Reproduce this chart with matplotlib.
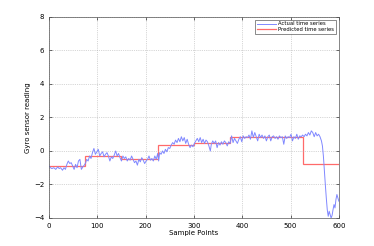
import numpy as np
import matplotlib
matplotlib.use("Agg")
import matplotlib.pyplot as plt

# actual gyro readings (sample index, value)
act_pts = [
    (0, -0.9), (3, -1.0), (6, -1.05), (10, -1.0), (14, -1.1), (18, -0.95), (21, -1.05), (24, -1.0),
    (28, -1.15), (31, -1.0), (34, -1.1), (37, -0.8), (40, -0.6), (43, -0.75), (46, -0.7), (49, -0.9),
    (52, -1.1), (55, -0.8), (58, -1.0), (61, -0.6), (64, -0.5), (67, -1.1), (70, -0.95), (73, -0.85),
    (76, -0.7), (78, -0.5), (81, -0.6), (84, -0.3), (87, -0.45), (90, -0.1), (93, 0.15), (96, -0.2),
    (99, -0.05), (102, 0.1), (105, -0.3), (108, -0.15), (111, -0.05), (114, -0.35), (117, -0.2),
    (120, -0.1), (123, -0.3), (126, -0.6), (129, -0.35), (132, -0.45), (135, -0.25), (138, 0.0),
    (141, -0.3), (144, -0.15), (147, -0.4), (150, -0.6), (153, -0.3), (156, -0.45), (159, -0.35),
    (162, -0.6), (165, -0.45), (168, -0.55), (171, -0.3), (174, -0.5), (177, -0.7), (180, -0.6),
    (183, -0.85), (186, -0.5), (189, -0.65), (192, -0.4), (195, -0.55), (198, -0.75), (201, -0.6),
    (204, -0.5), (207, -0.3), (210, -0.55), (213, -0.45), (216, -0.6), (219, -0.3), (222, -0.5),
    (225, -0.15), (227, -0.6), (229, -0.1), (232, -0.2), (235, 0.0), (238, -0.15), (241, 0.1),
    (244, -0.05), (247, 0.2), (250, 0.15), (253, 0.35), (256, 0.5), (259, 0.4), (262, 0.65),
    (265, 0.5), (268, 0.75), (271, 0.55), (274, 0.85), (277, 0.6), (280, 0.8), (283, 0.45),
    (286, 0.7), (289, 0.4), (292, 0.2), (295, 0.35), (298, 0.25), (301, 0.45), (304, 0.6),
    (307, 0.75), (310, 0.55), (313, 0.8), (316, 0.5), (319, 0.7), (322, 0.45), (325, 0.65),
    (328, 0.55), (331, 0.3), (334, 0.0), (336, 0.4), (339, 0.6), (342, 0.45), (345, 0.6),
    (348, 0.2), (351, 0.5), (354, 0.35), (357, 0.55), (360, 0.4), (363, 0.6), (366, 0.5),
    (369, 0.3), (372, 0.55), (375, 0.45), (378, 0.9), (381, 0.5), (384, 0.75), (387, 0.6),
    (390, 0.45), (393, 0.7), (396, 0.85), (399, 0.55), (402, 0.9), (405, 0.75), (408, 0.85),
    (411, 0.8), (414, 0.95), (417, 0.7), (420, 1.2), (423, 0.8), (426, 1.1), (429, 0.85),
    (432, 0.6), (435, 1.0), (438, 0.8), (441, 0.95), (444, 0.75), (447, 0.9), (450, 0.6),
    (453, 0.85), (456, 0.95), (459, 0.6), (462, 0.85), (465, 0.9), (468, 0.75), (471, 0.85),
    (474, 0.7), (477, 0.9), (480, 0.8), (483, 0.85), (486, 0.4), (489, 0.9), (492, 0.75),
    (495, 0.85), (498, 0.8), (501, 1.0), (504, 0.6), (507, 0.85), (510, 0.75), (513, 1.0),
    (516, 0.7), (519, 0.9), (522, 0.85), (525, 0.95), (528, 0.85), (531, 1.0), (534, 0.9),
    (537, 1.1), (540, 0.95), (543, 1.2), (546, 1.1), (549, 0.85), (552, 1.1), (555, 0.9),
    (558, 1.0), (561, 0.85), (564, 0.6), (566, 0.3), (568, -0.3), (570, -1.2), (572, -2.0),
    (574, -2.8), (576, -3.5), (578, -3.9), (580, -3.6), (582, -3.8), (584, -4.0), (586, -3.85),
    (588, -3.5), (590, -3.2), (592, -3.4), (594, -2.9), (596, -2.6), (598, -2.8), (600, -3.0),
]
act_x = [p[0] for p in act_pts]
act_y = [p[1] for p in act_pts]

# predicted step values, one level per 75-sample window
step_edges = [0, 75, 150, 225, 300, 375, 450, 525, 600]
step_vals = [-0.87, -0.32, -0.5, 0.33, 0.5, 0.82, 0.83, -0.77]

fig = plt.figure(figsize=(3.74, 2.46), dpi=100)
ax = fig.add_axes([0.131, 0.114, 0.775, 0.817])

ax.plot(act_x, act_y, color="#8088ff", lw=0.7, label="Actual time series")
ax.stairs(step_vals, step_edges, color="#ff6a6a", lw=0.9, baseline=None,
          label="Predicted time series")

ax.set_xlim(0, 600)
ax.set_ylim(-4, 8)
ax.set_xticks(range(0, 601, 100))
ax.set_yticks(range(-4, 9, 2))
ax.grid(True, linestyle=":", color="#b0b0b0", lw=0.5)
ax.tick_params(labelsize=5, direction="in", length=2, width=0.4, top=True, right=True)
for s in ax.spines.values():
    s.set_linewidth(0.5)
    s.set_color("#555555")
ax.set_xlabel("Sample Points", fontsize=5, labelpad=1)
ax.set_ylabel("Gyro sensor reading", fontsize=5, labelpad=2)

leg = ax.legend(loc="upper right", fontsize=3.8, fancybox=False, handlelength=3.6,
                borderpad=0.35, labelspacing=0.15, handletextpad=0.4, borderaxespad=0.5)
leg.get_frame().set_edgecolor("#333333")
leg.get_frame().set_linewidth(0.5)

fig.savefig("out.png", dpi=100)
